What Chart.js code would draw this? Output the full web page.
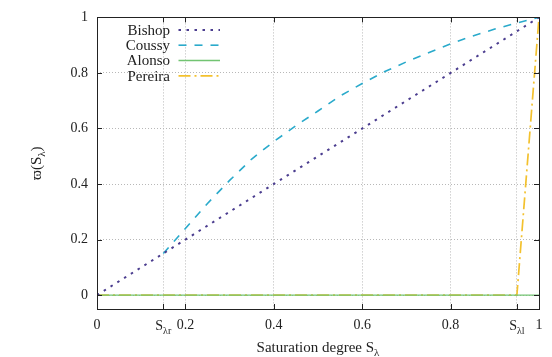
<!DOCTYPE html>
<html>
<head>
<meta charset="utf-8">
<script src="https://cdn.jsdelivr.net/npm/chart.js@4.4.1/dist/chart.umd.min.js"></script>
<style>
  html, body { margin: 0; padding: 0; background: #fff; }
  #wrap { width: 552px; height: 357px; }
</style>
</head>
<body>
<div id="wrap"><canvas id="chart" width="552" height="357"></canvas></div>
<script>
// saturation degree S (x) and effective stress parameter (y) per model
const bishopS = [0, 1];
const bishopW = [0, 1];

const coussyS = [0.15, 0.2, 0.25, 0.3, 0.35, 0.4, 0.45, 0.5, 0.55, 0.6, 0.65, 0.7, 0.75, 0.8, 0.85, 0.9, 0.95, 1];
const coussyW = [0.15, 0.24, 0.33, 0.413, 0.49, 0.553, 0.61, 0.663, 0.717, 0.762, 0.804, 0.84, 0.873, 0.905, 0.933, 0.958, 0.98, 1];

const alonsoS = [0, 1];
const alonsoW = [0, 0];

const pereiraS = [0, 0.95, 1];
const pereiraW = [0, 0, 1];

const seriesNames = ['Bishop', 'Coussy', 'Alonso', 'Pereira'];

// tick labels
const xTicks = [0, 0.15, 0.2, 0.4, 0.6, 0.8, 0.95, 1];
const yTicks = [0, 0.2, 0.4, 0.6, 0.8, 1];
const specialX = [0.15, 0.95];
const specialSub = ['λr', 'λl'];

const FONT = "'Liberation Serif', 'DejaVu Serif', serif";

function pts(xs, ys) {
  return xs.map((x, i) => ({ x: x, y: ys[i] }));
}

// draw "base" + subscript + optional tail, y is the baseline
function subText(ctx, x, y, base, sub, tail, size, align) {
  const subSize = Math.round(size * 0.72);
  ctx.font = size + 'px ' + FONT;
  const wBase = ctx.measureText(base).width;
  const wTail = tail ? ctx.measureText(tail).width : 0;
  ctx.font = subSize + 'px ' + FONT;
  const wSub = ctx.measureText(sub).width;
  const total = wBase + wSub + wTail;
  let x0 = x;
  if (align === 'center') x0 = x - total / 2;
  if (align === 'right') x0 = x - total;
  ctx.textAlign = 'left';
  ctx.textBaseline = 'alphabetic';
  ctx.font = size + 'px ' + FONT;
  ctx.fillText(base, x0, y);
  ctx.font = subSize + 'px ' + FONT;
  ctx.fillText(sub, x0 + wBase, y + size * 0.25);
  if (tail) {
    ctx.font = size + 'px ' + FONT;
    ctx.fillText(tail, x0 + wBase + wSub, y);
  }
}

// frame, inward tick marks, subscript labels, titles and the gnuplot-like key
const decorPlugin = {
  id: 'decor',
  afterDatasetsDraw(chart) {
    const ctx = chart.ctx;
    const a = chart.chartArea;
    const xs = chart.scales.x;
    const ys = chart.scales.y;
    ctx.save();
    ctx.strokeStyle = '#222';
    ctx.lineWidth = 1;
    ctx.setLineDash([]);
    ctx.strokeRect(Math.round(a.left) + 0.5, Math.round(a.top) + 0.5,
      Math.round(a.right - a.left), Math.round(a.bottom - a.top));
    ctx.beginPath();
    xTicks.forEach(v => {
      const px = Math.round(xs.getPixelForValue(v)) + 0.5;
      ctx.moveTo(px, a.bottom); ctx.lineTo(px, a.bottom - 5);
      ctx.moveTo(px, a.top); ctx.lineTo(px, a.top + 5);
    });
    yTicks.forEach(v => {
      const py = Math.round(ys.getPixelForValue(v)) + 0.5;
      ctx.moveTo(a.left, py); ctx.lineTo(a.left + 5, py);
      ctx.moveTo(a.right, py); ctx.lineTo(a.right - 5, py);
    });
    ctx.stroke();
    ctx.restore();
  },
  afterDraw(chart) {
    const ctx = chart.ctx;
    const a = chart.chartArea;
    const xs = chart.scales.x;
    ctx.save();
    ctx.fillStyle = '#222';
    // special x tick labels
    specialX.forEach((v, i) => {
      subText(ctx, xs.getPixelForValue(v), a.bottom + 21, 'S', specialSub[i], '', 14, 'center');
    });
    // x title
    subText(ctx, (a.left + a.right) / 2, a.bottom + 43, 'Saturation degree S', 'λ', '', 15, 'center');
    // y title, rotated
    ctx.save();
    ctx.translate(41, (a.top + a.bottom) / 2);
    ctx.rotate(-Math.PI / 2);
    subText(ctx, 0, 0, 'ϖ(S', 'λ', ')', 15, 'center');
    ctx.restore();
    // key
    chart.data.datasets.forEach((ds, i) => {
      const y = a.top + 12.5 + i * 15.3;
      ctx.font = '15px ' + FONT;
      ctx.textAlign = 'right';
      ctx.textBaseline = 'middle';
      ctx.fillStyle = '#222';
      ctx.fillText(ds.label, a.left + 73, y + 1);
      ctx.beginPath();
      ctx.strokeStyle = ds.borderColor;
      ctx.lineWidth = ds.borderWidth;
      ctx.setLineDash(ds.borderDash || []);
      ctx.moveTo(a.left + 81.5, y);
      ctx.lineTo(a.left + 123, y);
      ctx.stroke();
    });
    ctx.restore();
  }
};

const gridColor = ctx => {
  const v = ctx.tick ? ctx.tick.value : null;
  if (v === 1 || v === 0 && ctx.scale.axis === 'x') return 'rgba(0,0,0,0)';
  return '#b8b8b8';
};

new Chart(document.getElementById('chart'), {
  type: 'scatter',
  data: {
    datasets: [
      {
        label: seriesNames[0],
        data: pts(bishopS, bishopW),
        borderColor: '#4b3d8f',
        borderWidth: 2,
        borderDash: [2.5, 5.5],
      },
      {
        label: seriesNames[1],
        data: pts(coussyS, coussyW),
        borderColor: '#2aaacb',
        borderWidth: 1.6,
        borderDash: [8, 8],
      },
      {
        label: seriesNames[2],
        data: pts(alonsoS, alonsoW),
        borderColor: '#72c472',
        borderWidth: 1.4,
        borderDash: [],
      },
      {
        label: seriesNames[3],
        data: pts(pereiraS, pereiraW),
        borderColor: '#f3c12e',
        borderWidth: 1.7,
        borderDash: [12, 4, 2, 4],
      },
    ].map(d => Object.assign(d, { showLine: true, pointRadius: 0, fill: false, tension: 0 })),
  },
  options: {
    responsive: false,
    animation: false,
    devicePixelRatio: 1,
    layout: { padding: { left: 0, right: 13, top: 11, bottom: 0 } },
    plugins: {
      legend: { display: false },
      tooltip: { enabled: false },
    },
    scales: {
      x: {
        type: 'linear',
        min: 0,
        max: 1,
        afterBuildTicks: scale => { scale.ticks = xTicks.map(v => ({ value: v })); },
        afterFit: scale => { scale.height = 48; },
        ticks: {
          autoSkip: false,
          maxRotation: 0,
          padding: 8,
          color: '#222',
          font: { family: FONT, size: 14 },
          callback: v => (specialX.includes(v) ? '' : String(v)),
        },
        grid: { color: gridColor, lineWidth: 1, drawTicks: false },
        border: { display: false, dash: [1, 2] },
      },
      y: {
        type: 'linear',
        min: -0.05,
        max: 1,
        afterBuildTicks: scale => { scale.ticks = yTicks.map(v => ({ value: v })); },
        afterFit: scale => { scale.width = 97; },
        ticks: {
          padding: 9,
          color: '#222',
          font: { family: FONT, size: 14 },
          callback: v => String(v),
        },
        grid: { color: gridColor, lineWidth: 1, drawTicks: false },
        border: { display: false, dash: [1, 2] },
      },
    },
  },
  plugins: [decorPlugin],
});
</script>
</body>
</html>
